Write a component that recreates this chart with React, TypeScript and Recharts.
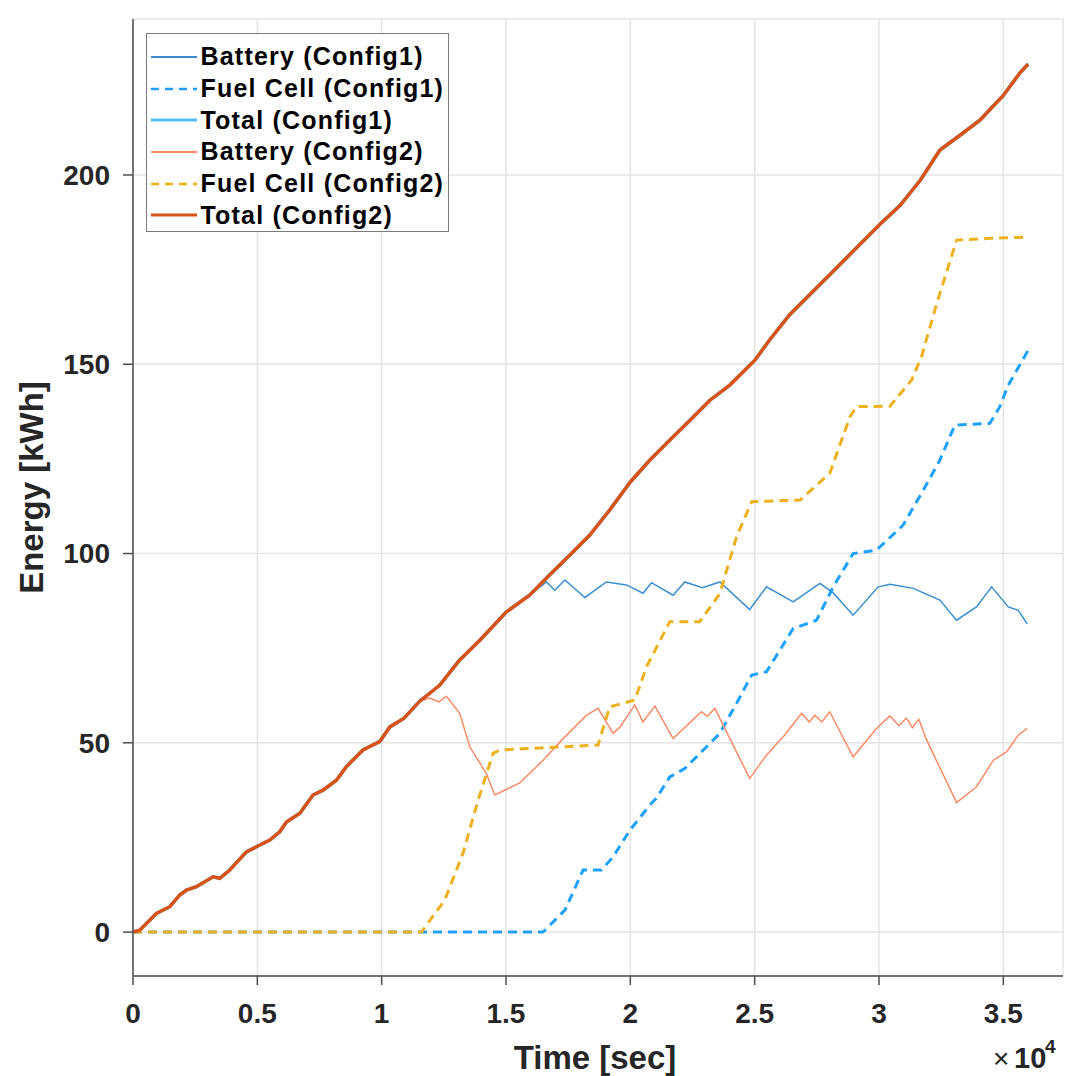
import React from 'react';
import { LineChart, Line, XAxis, YAxis, CartesianGrid, Legend } from 'recharts';

const FONT = '"Liberation Sans", Arial, Helvetica, sans-serif';
const TEXT = '#262626';
const AXIS = '#4d4d4d';

// Total energy (identical for both configurations)
const totalT = [0, 270, 940, 1480, 1880, 2150, 2550, 3220, 3490, 3890, 4560, 5100, 5500, 5900, 6170, 6710, 7240, 7640, 8180, 8580, 9250, 9920, 10330, 10900, 11530, 12330, 13130, 13950, 15000, 15950, 16750, 17570, 18370, 19170, 20000, 20790, 21590, 22400, 23200, 24000, 25000, 25600, 26400, 27200, 28000, 28800, 30000, 30850, 31660, 32450, 33260, 34060, 35000, 35670, 36000];
const totalE = [0, 0.5, 4.9, 6.7, 9.8, 11.1, 12, 14.6, 14.2, 16.4, 21.2, 23, 24.3, 26.5, 29.1, 31.4, 36.2, 37.5, 40.1, 43.7, 48.1, 50.3, 54.2, 56.5, 61, 65.2, 71.8, 77.1, 84.5, 89, 94.3, 99.6, 104.9, 111.5, 118.9, 124.7, 130, 135.2, 140.5, 144.5, 151, 156.4, 163, 168.3, 173.5, 178.8, 186.7, 192, 198.6, 206.6, 210.5, 214.5, 221, 227, 229.3];

// Battery (Config1)
const batt1T = [0, 270, 940, 1480, 1880, 2150, 2550, 3220, 3490, 3890, 4560, 5100, 5500, 5900, 6170, 6710, 7240, 7640, 8180, 8580, 9250, 9920, 10330, 10900, 11530, 12330, 13130, 13950, 15000, 15950, 16630, 16960, 17370, 18170, 19040, 19850, 20510, 20850, 21720, 22190, 22900, 23600, 24800, 25480, 26550, 27620, 28160, 28960, 29970, 30440, 31380, 32450, 33120, 33920, 34530, 35200, 35600, 35960];
const batt1E = [0, 0.5, 4.9, 6.7, 9.8, 11.1, 12, 14.6, 14.2, 16.4, 21.2, 23, 24.3, 26.5, 29.1, 31.4, 36.2, 37.5, 40.1, 43.7, 48.1, 50.3, 54.2, 56.5, 61, 65.2, 71.8, 77.1, 84.5, 89, 92.5, 90.3, 93, 88.4, 92.5, 91.7, 89.5, 92.3, 89, 92.5, 91, 92.5, 85.2, 91.2, 87.2, 92.1, 89.6, 83.7, 91.2, 91.9, 90.8, 87.7, 82.4, 85.9, 91.2, 85.9, 85, 81.4];

// Fuel Cell (Config1)
const fc1T = [0, 16490, 17370, 18100, 18840, 19310, 19980, 20780, 21050, 21590, 22190, 23600, 24270, 24880, 25480, 26550, 27490, 28160, 28960, 29900, 30970, 31780, 32450, 33050, 34460, 34860, 35200, 36000];
const fc1E = [0, 0, 5.8, 16.4, 16.4, 19.9, 26.9, 33.5, 35.4, 41, 43.2, 52.5, 60.4, 67.9, 68.8, 80.2, 82.4, 91.2, 100, 100.9, 107.5, 116.7, 124.7, 133.9, 134.4, 138.8, 144.5, 153.7];

// Battery (Config2)
const batt2T = [0, 270, 940, 1480, 1880, 2150, 2550, 3220, 3490, 3890, 4560, 5100, 5500, 5900, 6170, 6710, 7240, 7640, 8180, 8580, 9250, 9920, 10330, 10900, 11530, 11930, 12300, 12600, 13140, 13540, 14210, 14550, 15550, 16490, 17300, 18240, 18700, 19310, 19590, 20180, 20510, 20990, 21720, 22860, 23100, 23400, 24800, 25480, 26150, 26890, 27200, 27420, 27700, 28020, 28960, 29900, 30440, 30800, 31100, 31350, 31600, 31920, 33120, 33920, 34600, 35130, 35600, 35960];
const batt2E = [0, 0.5, 4.9, 6.7, 9.8, 11.1, 12, 14.6, 14.2, 16.4, 21.2, 23, 24.3, 26.5, 29.1, 31.4, 36.2, 37.5, 40.1, 43.7, 48.1, 50.3, 54.2, 56.5, 61, 61.8, 60.8, 62.3, 57.8, 49, 41.9, 36.2, 39.4, 45.4, 51.1, 57.3, 59.1, 52.5, 54.2, 60, 55.5, 59.7, 51.1, 58.2, 57, 59.1, 40.6, 46.8, 51.6, 57.8, 55.5, 57.3, 55.5, 58.2, 46.3, 53.8, 57.1, 54.5, 56.5, 54, 56.2, 50.7, 34.2, 38.4, 45.4, 47.6, 52, 53.8];

// Fuel Cell (Config2)
const fc2T = [0, 11600, 12540, 13270, 13880, 14480, 14750, 18700, 19170, 20180, 20650, 21590, 22790, 23600, 24270, 24880, 26820, 28020, 28830, 29100, 30440, 31310, 31710, 32320, 33120, 34330, 35940];
const fc2E = [0, 0, 8.5, 20.8, 34.9, 47.2, 48.1, 49.4, 59.5, 61.3, 70.1, 82, 82, 89.4, 104.4, 113.7, 114.1, 121.2, 136.1, 138.8, 138.9, 145.8, 152, 166, 182.8, 183.2, 183.6];

const xTicks = [0, 5000, 10000, 15000, 20000, 25000, 30000, 35000];
const yTicks = [0, 50, 100, 150, 200];
const xDomain = [0, 37400];
const yDomain = [-11.6, 241.2];

const toPoints = (t: number[], e: number[]) => t.map((v, i) => ({ t: v, e: e[i] }));

type SeriesDef = { name: string; data: { t: number; e: number }[]; color: string; width: number; dash?: string };

const series: SeriesDef[] = [
  { name: 'Battery (Config1)', data: toPoints(batt1T, batt1E), color: '#3b8ed0', width: 1.5 },
  { name: 'Fuel Cell (Config1)', data: toPoints(fc1T, fc1E), color: '#1ea0ff', width: 3, dash: '9 6' },
  { name: 'Total (Config1)', data: toPoints(totalT, totalE), color: '#4dbeee', width: 3.5 },
  { name: 'Battery (Config2)', data: toPoints(batt2T, batt2E), color: '#fb8b68', width: 1.5 },
  { name: 'Fuel Cell (Config2)', data: toPoints(fc2T, fc2E), color: '#edb120', width: 3, dash: '9 6' },
  { name: 'Total (Config2)', data: toPoints(totalT, totalE), color: '#d95319', width: 3.5 },
];

const LegendBox = () => (
  <div
    style={{
      boxSizing: 'border-box',
      width: 303,
      height: 199,
      background: '#fff',
      border: '1.5px solid #7a7a7a',
      paddingTop: 7,
      fontFamily: FONT,
    }}
  >
    {series.map((s) => (
      <div key={s.name} style={{ display: 'flex', alignItems: 'center', height: 31.7 }}>
        <svg width={50} height={10} style={{ marginLeft: 3.5, flex: 'none' }}>
          <line x1={0} y1={5} x2={46} y2={5} stroke={s.color} strokeWidth={s.width > 2 && !s.dash ? 3 : s.dash ? 2.5 : 2} strokeDasharray={s.dash ? '8 6' : undefined} />
        </svg>
        <span style={{ fontSize: 25, fontWeight: 'bold', color: '#000', whiteSpace: 'nowrap', letterSpacing: 1.2 }}>{s.name}</span>
      </div>
    ))}
  </div>
);

const XLabel = (props: any) => {
  const vb = props.viewBox || {};
  const cx = vb.x + vb.width / 2;
  const bottom = vb.y + vb.height;
  const right = vb.x + vb.width;
  return (
    <g fontFamily={FONT} fill={TEXT}>
      <text x={cx - 3} y={bottom - 7} textAnchor="middle" fontSize={33} fontWeight="bold">Time [sec]</text>
      <text x={right - 70} y={bottom - 8} fontSize={28} fontWeight="normal">×</text>
      <text x={right - 49} y={bottom - 8} fontSize={29} fontWeight="bold">10</text>
      <text x={right - 18} y={bottom - 23} fontSize={19} fontWeight="bold">4</text>
    </g>
  );
};

const YLabel = (props: any) => {
  const vb = props.viewBox || {};
  const cy = vb.y + vb.height / 2 - 10;
  const x = vb.x + 43;
  return (
    <text
      x={x}
      y={cy}
      transform={`rotate(-90, ${x}, ${cy})`}
      textAnchor="middle"
      fontSize={33}
      fontWeight="bold"
      fontFamily={FONT}
      fill={TEXT}
    >
      Energy [kWh]
    </text>
  );
};

const tickStyle = { fontSize: 28, fontWeight: 'bold', fill: TEXT, fontFamily: FONT };

export default function App() {
  return (
    <div style={{ position: 'absolute', left: 0, top: 0, width: 1066, height: 1076, background: '#fff' }}>
      <LineChart width={1066} height={1076} margin={{ top: 19, right: 3, bottom: 0, left: 0 }}>
        <CartesianGrid stroke="#e4e4e4" strokeWidth={1.5} xAxisId="main" yAxisId="main" />
        <XAxis
          xAxisId="main"
          type="number"
          dataKey="t"
          domain={xDomain}
          ticks={xTicks}
          allowDataOverflow
          height={100}
          tickSize={9}
          tickMargin={18}
          tickFormatter={(v: number) => String(v / 10000)}
          tick={tickStyle}
          stroke={AXIS}
          strokeWidth={1.5}
          interval={0}
          label={XLabel}
        />
        <XAxis
          xAxisId="top"
          orientation="top"
          type="number"
          dataKey="t"
          domain={xDomain}
          ticks={xTicks}
          allowDataOverflow
          height={0}
          tickSize={9}
          tick={false}
          stroke={AXIS}
          strokeWidth={1.5}
          interval={0}
        />
        <YAxis
          yAxisId="main"
          type="number"
          domain={yDomain}
          ticks={yTicks}
          allowDataOverflow
          width={133}
          tickSize={10}
          tickMargin={13}
          tick={tickStyle}
          stroke={AXIS}
          strokeWidth={1.5}
          interval={0}
          label={YLabel}
        />
        <YAxis
          yAxisId="right"
          orientation="right"
          type="number"
          domain={yDomain}
          ticks={yTicks}
          allowDataOverflow
          width={0}
          tickSize={9}
          tick={false}
          stroke={AXIS}
          strokeWidth={1.5}
          interval={0}
        />
        <Legend
          layout="vertical"
          align="center"
          verticalAlign="middle"
          wrapperStyle={{ left: 146, top: 33, width: 303 }}
          content={() => <LegendBox />}
        />
        {series.map((s) => (
          <Line
            key={s.name}
            name={s.name}
            xAxisId="main"
            yAxisId="main"
            data={s.data}
            dataKey="e"
            type="linear"
            stroke={s.color}
            strokeWidth={s.width}
            strokeDasharray={s.dash}
            dot={false}
            activeDot={false}
            isAnimationActive={false}
          />
        ))}
      </LineChart>
    </div>
  );
}
